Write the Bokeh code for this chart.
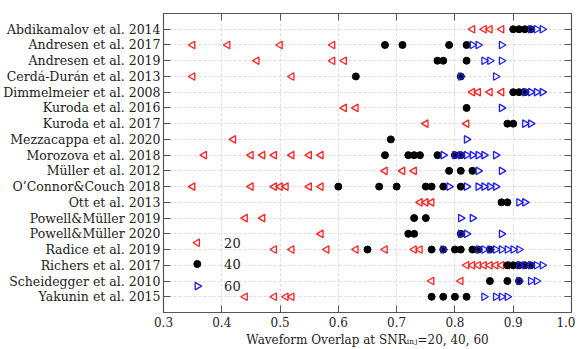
import math
from bokeh.plotting import figure
from bokeh.models import Range1d, FixedTicker, LinearAxis
from bokeh.core.properties import value
from bokeh.embed import file_html
from bokeh.resources import INLINE

studies = [
    "Abdikamalov et al. 2014", "Andresen et al. 2017", "Andresen et al. 2019",
    "Cerdá-Durán et al. 2013", "Dimmelmeier et al. 2008", "Kuroda et al. 2016",
    "Kuroda et al. 2017", "Mezzacappa et al. 2020", "Morozova et al. 2018",
    "Müller et al. 2012", "O’Connor&Couch 2018", "Ott et al. 2013",
    "Powell&Müller 2019", "Powell&Müller 2020", "Radice et al. 2019",
    "Richers et al. 2017", "Scheidegger et al. 2010", "Yakunin et al. 2015",
]

overlap_snr20 = [
    [0.83, 0.85, 0.86, 0.88],
    [0.35, 0.41, 0.50, 0.59],
    [0.46, 0.59, 0.61],
    [0.35, 0.52],
    [0.83, 0.84, 0.86, 0.88],
    [0.61, 0.63],
    [0.75, 0.82],
    [0.42],
    [0.37, 0.45, 0.47, 0.49, 0.52, 0.55, 0.57],
    [0.68, 0.71, 0.73],
    [0.35, 0.45, 0.49, 0.50, 0.51, 0.55, 0.57],
    [0.74, 0.75, 0.76],
    [0.44, 0.47],
    [0.57],
    [0.49, 0.52, 0.58, 0.63, 0.68, 0.73, 0.74],
    [0.82, 0.83, 0.84, 0.85, 0.86, 0.87, 0.88, 0.89],
    [0.76, 0.81],
    [0.44, 0.49, 0.51, 0.52],
]

overlap_snr40 = [
    [0.90, 0.91, 0.92, 0.93],
    [0.68, 0.71, 0.79, 0.82],
    [0.77, 0.78, 0.82],
    [0.63, 0.81],
    [0.90, 0.91, 0.92],
    [0.82],
    [0.89, 0.90],
    [0.69],
    [0.68, 0.72, 0.73, 0.74, 0.77, 0.80, 0.81],
    [0.79, 0.81, 0.83],
    [0.60, 0.67, 0.70, 0.75, 0.76, 0.78, 0.81],
    [0.88, 0.89],
    [0.73, 0.75],
    [0.72, 0.73, 0.81],
    [0.65, 0.76, 0.78, 0.80, 0.81, 0.83, 0.84, 0.86],
    [0.89, 0.90, 0.91, 0.92, 0.93],
    [0.86, 0.89, 0.91],
    [0.76, 0.78, 0.80, 0.82],
]

overlap_snr60 = [
    [0.93, 0.94, 0.95],
    [0.83, 0.84, 0.88],
    [0.85, 0.86, 0.88],
    [0.81, 0.87],
    [0.92, 0.93, 0.94, 0.95],
    [0.88],
    [0.92, 0.93],
    [0.82],
    [0.78, 0.80, 0.81, 0.82, 0.83, 0.84, 0.85, 0.87],
    [0.84, 0.88],
    [0.79, 0.82, 0.84, 0.85, 0.86, 0.87],
    [0.91, 0.92],
    [0.81, 0.83],
    [0.81, 0.82, 0.88],
    [0.78, 0.84, 0.85, 0.86, 0.87, 0.88, 0.89, 0.90, 0.91],
    [0.91, 0.92, 0.93, 0.94, 0.95],
    [0.91, 0.93, 0.94],
    [0.85, 0.87, 0.88, 0.89],
]

x_ticks = [0.3, 0.4, 0.5, 0.6, 0.7, 0.8, 0.9, 1.0]
legend_labels = ["20", "40", "60"]

# layout of the hand-made legend (data coordinates of the plot frame)
LEG_MARK_X = 0.358
LEG_TEXT_X = 0.404
LEG_ROWS = [13.57, 14.92, 16.32]

RED = "#ff2020"
BLUE = "#2020ee"
FONT = "DejaVu Serif"
AX = "#555555"


def flatten(rows):
    xs, ys = [], []
    for i, vals in enumerate(rows):
        for v in vals:
            xs.append(v)
            ys.append(i)
    return xs, ys


n = len(studies)

p = figure(
    frame_width=408, frame_height=299,
    x_range=Range1d(0.3, 1.0), y_range=Range1d(n, -1),
    output_backend="svg", toolbar_location=None,
    min_border_left=160, min_border_right=4, min_border_top=13, min_border_bottom=4,
    background_fill_color="white", border_fill_color="white",
)
p.outline_line_color = AX
p.outline_line_width = 1.2

for g in (p.xgrid, p.ygrid):
    g.grid_line_color = "#d4d4d4"
    g.grid_line_dash = "3 2"
    g.grid_line_width = 0.8
p.xgrid.ticker = FixedTicker(ticks=x_ticks)
p.ygrid.ticker = FixedTicker(ticks=list(range(n)))

xa = p.xaxis[0]
xa.ticker = FixedTicker(ticks=x_ticks)
xa.major_label_overrides = {t: f"{t:.1f}" for t in x_ticks}
xa.axis_label = "Waveform Overlap at SNRᵢₙⱼ=20, 40, 60"
xa.axis_label_text_font = FONT
xa.axis_label_text_font_style = "normal"
xa.axis_label_text_font_size = "12px"
xa.axis_label_text_color = "#222222"
xa.axis_label_standoff = 3
xa.major_label_text_font = FONT
xa.major_label_text_font_size = "12px"
xa.major_label_text_color = "#222222"
xa.major_label_standoff = 4
xa.major_tick_in = 7
xa.major_tick_out = 0
xa.minor_tick_in = 0
xa.minor_tick_out = 0
xa.axis_line_color = AX
xa.major_tick_line_color = AX

ya = p.yaxis[0]
ya.ticker = FixedTicker(ticks=list(range(n)))
ya.major_label_overrides = {i: s for i, s in enumerate(studies)}
ya.major_label_text_font = FONT
ya.major_label_text_font_size = "12.5px"
ya.major_label_text_color = "#222222"
ya.major_label_standoff = 3
ya.major_tick_in = 7
ya.major_tick_out = 0
ya.minor_tick_in = 0
ya.minor_tick_out = 0
ya.axis_line_color = AX
ya.major_tick_line_color = AX

top = LinearAxis(ticker=FixedTicker(ticks=x_ticks),
                 major_label_overrides={t: "" for t in x_ticks},
                 major_tick_in=7, major_tick_out=0, minor_tick_in=0, minor_tick_out=0,
                 major_label_standoff=0, axis_line_color=AX, major_tick_line_color=AX)
p.add_layout(top, "above")
right = LinearAxis(ticker=FixedTicker(ticks=list(range(n))),
                   major_label_overrides={i: "" for i in range(n)},
                   major_tick_in=7, major_tick_out=0, minor_tick_in=0, minor_tick_out=0,
                   major_label_standoff=0, axis_line_color=AX, major_tick_line_color=AX)
p.add_layout(right, "right")

x20, y20 = flatten(overlap_snr20)
x40, y40 = flatten(overlap_snr40)
x60, y60 = flatten(overlap_snr60)

p.scatter(x20, y20, marker="triangle", angle=math.pi / 2, size=7.5,
          fill_color=None, line_color=RED, line_width=1.3)
p.scatter(x40, y40, marker="circle", size=7,
          fill_color="black", line_color="black")
p.scatter(x60, y60, marker="triangle", angle=-math.pi / 2, size=7.5,
          fill_color=None, line_color=BLUE, line_width=1.3)

# legend (drawn by hand so the triangle keys keep their orientation)
p.scatter([LEG_MARK_X], [LEG_ROWS[0]], marker="triangle", angle=math.pi / 2, size=7.5,
          fill_color=None, line_color=RED, line_width=1.3)
p.scatter([LEG_MARK_X], [LEG_ROWS[1]], marker="circle", size=7,
          fill_color="black", line_color="black")
p.scatter([LEG_MARK_X], [LEG_ROWS[2]], marker="triangle", angle=-math.pi / 2, size=7.5,
          fill_color=None, line_color=BLUE, line_width=1.3)
p.text([LEG_TEXT_X] * 3, LEG_ROWS, text=legend_labels,
       text_font=value(FONT), text_font_size="13px", text_color="#222222",
       text_align="left", text_baseline="middle")

open("out.html", "w").write(file_html(p, INLINE))
